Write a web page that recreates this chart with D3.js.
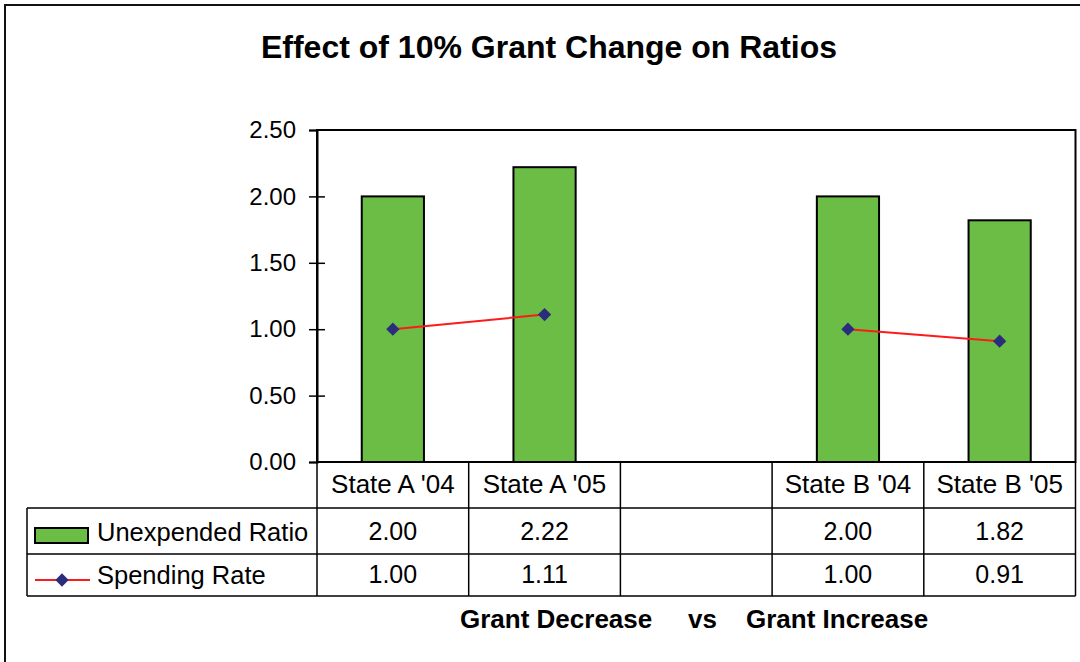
<!DOCTYPE html>
<html lang="en">
<head>
<meta charset="UTF-8">
<title>Effect of 10% Grant Change on Ratios</title>
<style>
  body { margin: 0; background: #fff; }
  svg { display: block; font-family: "Liberation Sans", Arial, sans-serif; }
</style>
</head>
<body>
<script src="https://cdn.jsdelivr.net/npm/d3@7"></script>
<script>
var categories = ["State A '04", "State A '05", "", "State B '04", "State B '05"];
var unexpended = [2.00, 2.22, null, 2.00, 1.82];
var spending = [1.00, 1.11, null, 1.00, 0.91];
var yTicks = [0, 0.5, 1, 1.5, 2, 2.5];
var seriesNames = ['Unexpended Ratio', 'Spending Rate'];
var groupLabels = ['Grant Decrease', 'vs', 'Grant Increase'];

var W = 1080, H = 662;
var plotLeft = 317, plotRight = 1075.5, plotTop = 130, plotBottom = 462;
var rowH = [46, 46, 42];
var legendLeft = 27;

var svg = d3.select('body').append('svg')
    .attr('width', W)
    .attr('height', H);

// outer frame (runs past the picture on right and bottom)
svg.append('rect')
    .attr('x', 5).attr('y', 5)
    .attr('width', W + 20).attr('height', H + 20)
    .attr('fill', 'none')
    .attr('stroke', '#111')
    .attr('stroke-width', 2);

svg.append('text')
    .attr('x', 549)
    .attr('y', 58)
    .attr('text-anchor', 'middle')
    .attr('font-weight', 'bold')
    .attr('font-size', 32)
    .text('Effect of 10% Grant Change on Ratios');

var x = d3.scaleBand().domain(d3.range(categories.length)).range([plotLeft, plotRight]).padding(0);
var y = d3.scaleLinear().domain([0, 2.5]).range([plotBottom, plotTop]);

// plot area border
svg.append('rect')
    .attr('x', plotLeft).attr('y', plotTop)
    .attr('width', plotRight - plotLeft).attr('height', plotBottom - plotTop)
    .attr('fill', 'none')
    .attr('stroke', '#000')
    .attr('stroke-width', 2);

var yAxis = svg.append('g')
    .attr('transform', 'translate(' + plotLeft + ',0)')
    .call(d3.axisLeft(y).tickValues(yTicks).tickFormat(d3.format('.2f')).tickSize(8).tickPadding(13));
yAxis.select('.domain').attr('stroke', '#000').attr('stroke-width', 2);
yAxis.selectAll('.tick line')
    .attr('x1', function(d) { return d === 0 || d === 2.5 ? 0 : 8; })
    .attr('stroke', '#000')
    .attr('stroke-width', 1.5);
yAxis.selectAll('.tick text')
    .attr('font-size', 24)
    .attr('font-family', '"Liberation Sans", Arial, sans-serif')
    .attr('fill', '#000');

var barW = x.bandwidth() * 0.41;
svg.selectAll('rect.bar')
    .data(unexpended.map(function(v, i) { return {v: v, i: i}; }).filter(function(d) { return d.v !== null; }))
    .enter()
    .append('rect')
    .attr('class', 'bar')
    .attr('x', function(d) { return x(d.i) + (x.bandwidth() - barW) / 2; })
    .attr('y', function(d) { return y(d.v); })
    .attr('width', barW)
    .attr('height', function(d) { return y(0) - y(d.v); })
    .attr('fill', '#6bbd45')
    .attr('stroke', '#000')
    .attr('stroke-width', 2);

var line = d3.line()
    .defined(function(d) { return d !== null; })
    .x(function(d, i) { return x(i) + x.bandwidth() / 2; })
    .y(function(d) { return y(d); });

svg.append('path')
    .datum(spending)
    .attr('d', line)
    .attr('fill', 'none')
    .attr('stroke', '#ff1a1a')
    .attr('stroke-width', 2);

var diamond = d3.symbol().type(d3.symbolDiamond2).size(112);
svg.selectAll('path.marker')
    .data(spending.map(function(v, i) { return {v: v, i: i}; }).filter(function(d) { return d.v !== null; }))
    .enter()
    .append('path')
    .attr('class', 'marker')
    .attr('d', diamond)
    .attr('transform', function(d) { return 'translate(' + (x(d.i) + x.bandwidth() / 2) + ',' + y(d.v) + ')'; })
    .attr('fill', '#2b2c7c');

// data table
var r0 = plotBottom, r1 = r0 + rowH[0], r2 = r1 + rowH[1], r3 = r2 + rowH[2];
var table = svg.append('g').attr('stroke', '#000').attr('stroke-width', 1.5);
table.append('line').attr('x1', plotLeft).attr('x2', plotRight).attr('y1', r0).attr('y2', r0);
table.append('line').attr('x1', legendLeft).attr('x2', plotRight).attr('y1', r1).attr('y2', r1);
table.append('line').attr('x1', legendLeft).attr('x2', plotRight).attr('y1', r2).attr('y2', r2);
table.append('line').attr('x1', legendLeft).attr('x2', plotRight).attr('y1', r3).attr('y2', r3);
table.append('line').attr('x1', legendLeft).attr('x2', legendLeft).attr('y1', r1).attr('y2', r3);
table.selectAll('line.col')
    .data(d3.range(categories.length + 1))
    .enter()
    .append('line')
    .attr('class', 'col')
    .attr('x1', function(i) { return i < categories.length ? x(i) : plotRight; })
    .attr('x2', function(i) { return i < categories.length ? x(i) : plotRight; })
    .attr('y1', r0)
    .attr('y2', r3);

function cellText(vals, baseline, size, fmt) {
    svg.append('g').selectAll('text')
        .data(vals)
        .enter()
        .append('text')
        .attr('x', function(d, i) { return x(i) + x.bandwidth() / 2; })
        .attr('y', baseline)
        .attr('text-anchor', 'middle')
        .attr('font-size', size)
        .text(function(d) { return d === null ? '' : fmt(d); });
}
cellText(categories, r0 + 31, 26, function(d) { return d; });
cellText(unexpended, r1 + 32, 25, d3.format('.2f'));
cellText(spending, r2 + 29, 25, d3.format('.2f'));

// legend keys inside the table
svg.append('rect')
    .attr('x', 35).attr('y', r1 + 20)
    .attr('width', 53).attr('height', 15)
    .attr('fill', '#6bbd45')
    .attr('stroke', '#000')
    .attr('stroke-width', 2);
svg.append('line')
    .attr('x1', 35).attr('x2', 90)
    .attr('y1', r2 + 26).attr('y2', r2 + 26)
    .attr('stroke', '#ff1a1a')
    .attr('stroke-width', 2);
svg.append('path')
    .attr('d', diamond)
    .attr('transform', 'translate(62,' + (r2 + 26) + ')')
    .attr('fill', '#2b2c7c');
svg.append('text').attr('x', 97).attr('y', r1 + 33).attr('font-size', 25.5).text(seriesNames[0]);
svg.append('text').attr('x', 97).attr('y', r2 + 30).attr('font-size', 25.5).text(seriesNames[1]);

// group caption under the table
var captionX = [460, 688, 746];
svg.append('g').selectAll('text')
    .data(groupLabels)
    .enter()
    .append('text')
    .attr('x', function(d, i) { return captionX[i]; })
    .attr('y', 628)
    .attr('font-size', 26)
    .attr('font-weight', 'bold')
    .text(function(d) { return d; });
</script>
</body>
</html>
